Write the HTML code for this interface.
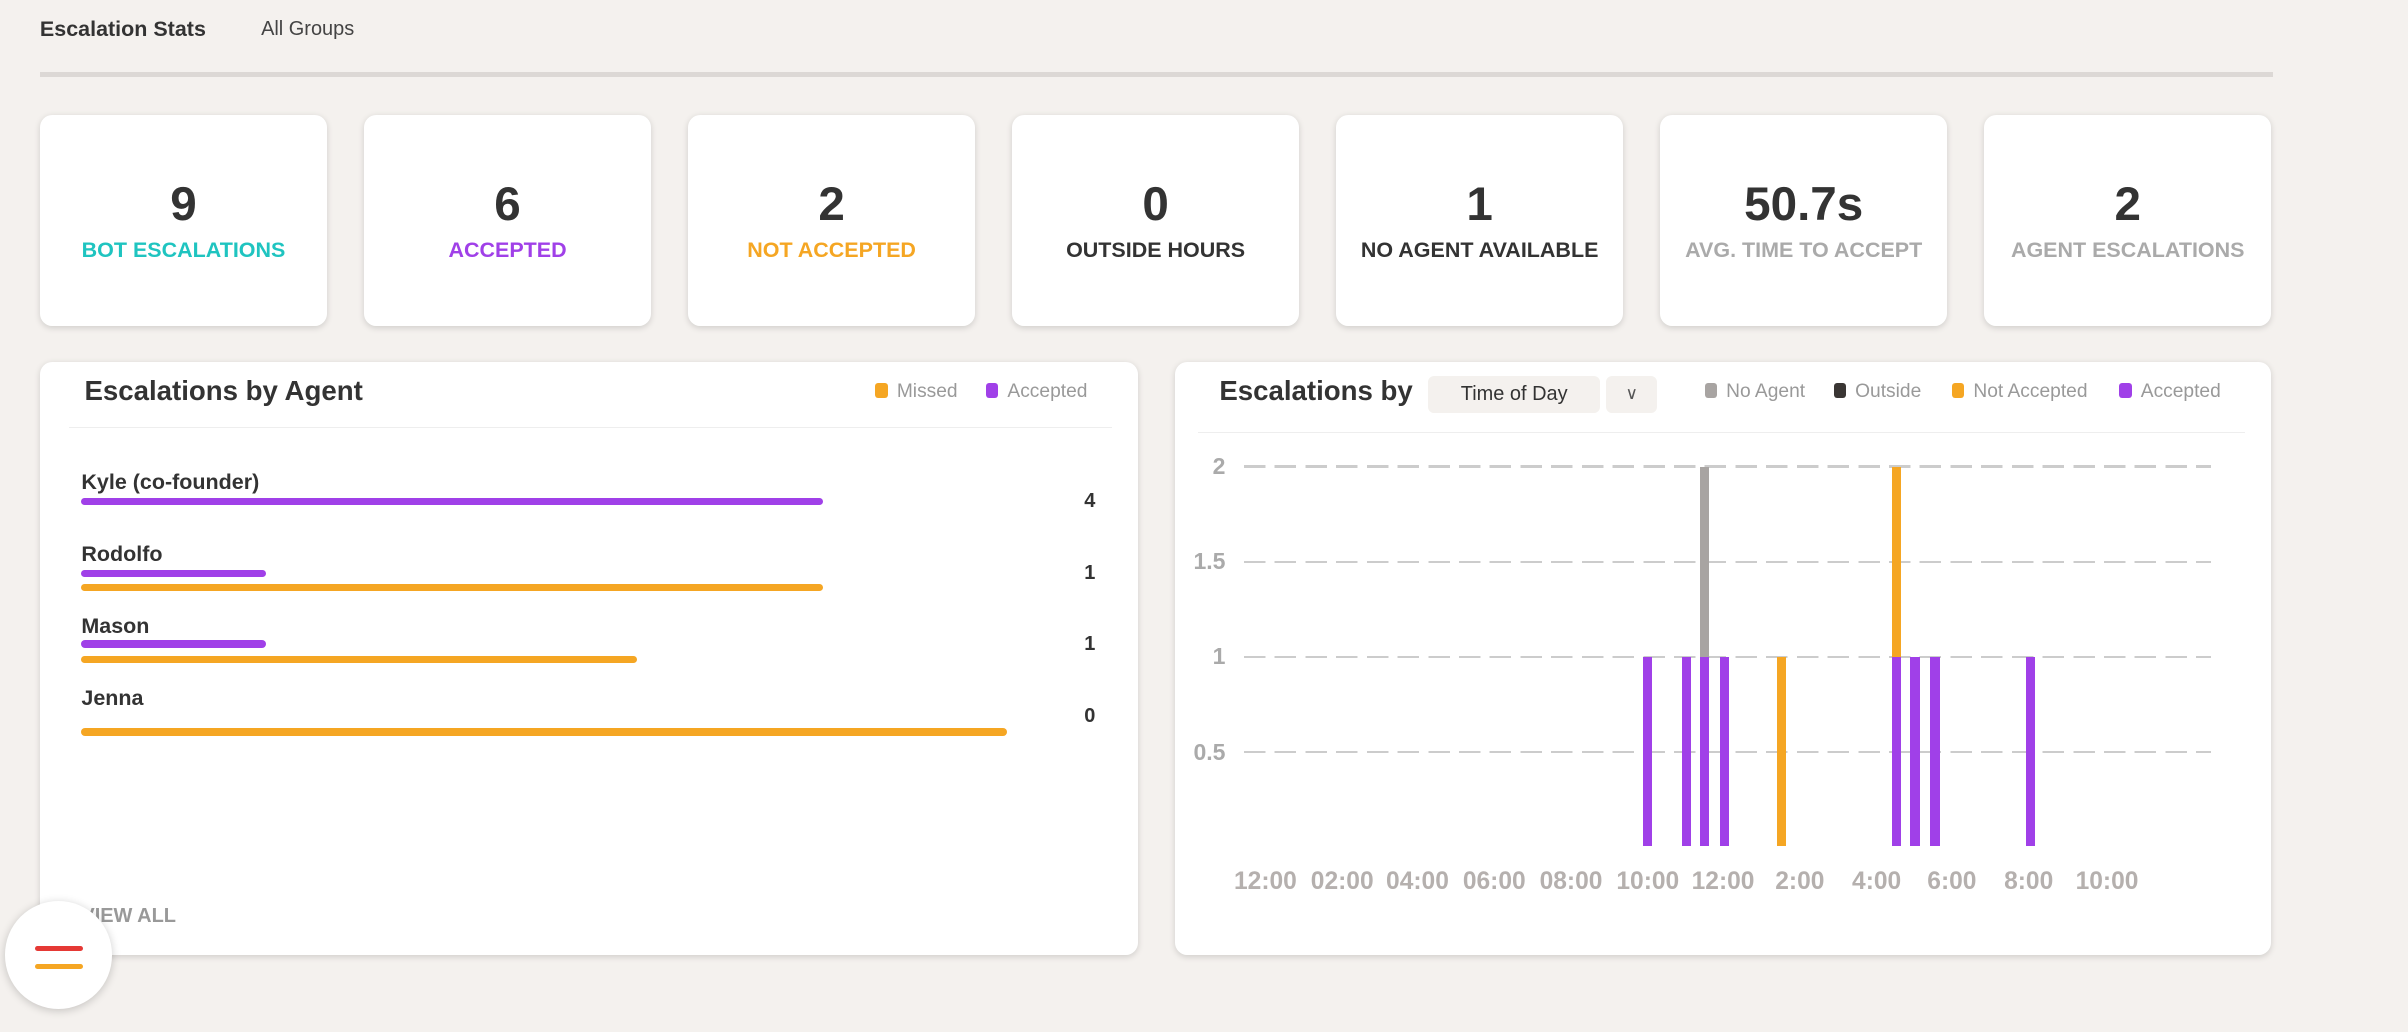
<!DOCTYPE html>
<html><head><meta charset="utf-8"><style>
html,body{margin:0;padding:0;}
body{width:1568px;height:672px;zoom:1.535714;background:#f4f1ee;font-family:"Liberation Sans",sans-serif;position:relative;overflow:hidden;color:#333;}
.a{position:absolute;}
.card{position:absolute;background:#fff;border-radius:8px;box-shadow:0 1px 4px rgba(0,0,0,0.15);}
.stat{top:75px;width:187px;height:137px;text-align:center;}
.stat .n{position:absolute;top:40px;width:100%;font-size:31px;font-weight:bold;color:#333;}
.stat .lb{position:absolute;top:80px;width:100%;font-size:14px;font-weight:bold;}
.bar{position:absolute;height:5px;border-radius:3px;}
.name{position:absolute;left:53px;font-size:14px;font-weight:bold;color:#333;}
.cnt{position:absolute;left:706px;font-size:13px;font-weight:bold;}
.gl{position:absolute;left:810px;width:630px;height:1.5px;background:repeating-linear-gradient(90deg,#ccc 0 14px,transparent 14px 20px);}
.yl{position:absolute;font-size:15px;color:#aaa;font-weight:bold;text-align:right;width:30px;left:768px;font-family:"Liberation Sans Narrow","Liberation Sans",sans-serif;}
.xl{position:absolute;top:565px;font-size:16px;color:#b5b0ae;font-weight:bold;width:60px;text-align:center;font-family:"Liberation Sans Narrow","Liberation Sans",sans-serif;}
.vb{position:absolute;width:6px;}
.lg{position:absolute;top:248px;font-size:12.5px;color:#999;}
.lg i{display:inline-block;width:8px;height:10px;border-radius:2px;margin-right:6px;vertical-align:-1px;}
</style></head><body>
<div class="a" style="left:26px;top:11px;font-size:14px;font-weight:bold;color:#333">Escalation Stats</div>
<div class="a" style="left:170px;top:12px;font-size:13px;color:#444">All Groups</div>
<div class="a" style="left:26px;top:47px;width:1454px;height:3px;background:#dcd8d5"></div>

<div class="card stat" style="left:26px"><div class="n">9</div><div class="lb" style="color:#1fc4c0">BOT ESCALATIONS</div></div>
<div class="card stat" style="left:237px"><div class="n">6</div><div class="lb" style="color:#a040e8">ACCEPTED</div></div>
<div class="card stat" style="left:448px"><div class="n">2</div><div class="lb" style="color:#f5a623">NOT ACCEPTED</div></div>
<div class="card stat" style="left:659px"><div class="n">0</div><div class="lb" style="color:#333">OUTSIDE HOURS</div></div>
<div class="card stat" style="left:870px"><div class="n">1</div><div class="lb" style="color:#333">NO AGENT AVAILABLE</div></div>
<div class="card stat" style="left:1081px"><div class="n">50.7s</div><div class="lb" style="color:#aaa">AVG. TIME TO ACCEPT</div></div>
<div class="card stat" style="left:1292px"><div class="n">2</div><div class="lb" style="color:#aaa">AGENT ESCALATIONS</div></div>

<div class="card" style="left:26px;top:236px;width:715px;height:386px"></div>
<div class="a" style="left:55px;top:244px;font-size:18px;font-weight:bold;color:#333">Escalations by Agent</div>
<div class="lg" style="left:570px"><i style="background:#f5a623"></i>Missed</div>
<div class="lg" style="left:642px"><i style="background:#a040e8"></i>Accepted</div>
<div class="a" style="left:45px;top:278px;width:679px;height:1px;background:#eee"></div>
<div class="name" style="top:306px">Kyle (co-founder)</div>
<div class="bar" style="left:53px;top:324px;width:483px;background:#a040e8"></div>
<div class="cnt" style="top:319px">4</div>
<div class="name" style="top:353px">Rodolfo</div>
<div class="bar" style="left:53px;top:371px;width:120px;background:#a040e8"></div>
<div class="bar" style="left:53px;top:380px;width:483px;background:#f5a623"></div>
<div class="cnt" style="top:366px">1</div>
<div class="name" style="top:400px">Mason</div>
<div class="bar" style="left:53px;top:417px;width:120px;background:#a040e8"></div>
<div class="bar" style="left:53px;top:427px;width:362px;background:#f5a623"></div>
<div class="cnt" style="top:412px">1</div>
<div class="name" style="top:447px">Jenna</div>
<div class="bar" style="left:53px;top:474px;width:603px;background:#f5a623"></div>
<div class="cnt" style="top:459px">0</div>
<div class="a" style="left:53px;top:589px;font-size:13px;font-weight:bold;color:#999">VIEW ALL</div>

<div class="card" style="left:765px;top:236px;width:714px;height:386px"></div>
<div class="a" style="left:794px;top:244px;font-size:18px;font-weight:bold;color:#333">Escalations by</div>
<div class="a" style="left:930px;top:245px;width:112px;height:24px;background:#f4f1ee;border-radius:4px;font-size:13px;line-height:24px;text-align:center;color:#333">Time of Day</div>
<div class="a" style="left:1046px;top:245px;width:33px;height:24px;background:#f4f1ee;border-radius:4px;font-size:11px;line-height:24px;text-align:center;color:#555">&#8744;</div>
<div class="lg" style="left:1110px"><i style="background:#a8a4a2"></i>No Agent</div>
<div class="lg" style="left:1194px"><i style="background:#3a3634"></i>Outside</div>
<div class="lg" style="left:1271px"><i style="background:#f5a623"></i>Not Accepted</div>
<div class="lg" style="left:1380px"><i style="background:#a040e8"></i>Accepted</div>
<div class="a" style="left:780px;top:281px;width:682px;height:1px;background:#eee"></div>

<div class="gl" style="top:303px"></div><div class="gl" style="top:365px"></div><div class="gl" style="top:427px"></div><div class="gl" style="top:489px"></div>
<div class="yl" style="top:295px">2</div><div class="yl" style="top:357px">1.5</div><div class="yl" style="top:419px">1</div><div class="yl" style="top:481px">0.5</div>

<div class="vb" style="left:1070px;top:428px;height:123px;background:#a040e8"></div>
<div class="vb" style="left:1095px;top:428px;height:123px;background:#a040e8"></div>
<div class="vb" style="left:1107px;top:304px;height:124px;background:#a8a4a2"></div>
<div class="vb" style="left:1107px;top:428px;height:123px;background:#a040e8"></div>
<div class="vb" style="left:1120px;top:428px;height:123px;background:#a040e8"></div>
<div class="vb" style="left:1157px;top:428px;height:123px;background:#f5a623"></div>
<div class="vb" style="left:1232px;top:304px;height:124px;background:#f5a623"></div>
<div class="vb" style="left:1232px;top:428px;height:123px;background:#a040e8"></div>
<div class="vb" style="left:1244px;top:428px;height:123px;background:#a040e8"></div>
<div class="vb" style="left:1257px;top:428px;height:123px;background:#a040e8"></div>
<div class="vb" style="left:1319px;top:428px;height:123px;background:#a040e8"></div>

<div class="xl" style="left:794px">12:00</div><div class="xl" style="left:844px">02:00</div><div class="xl" style="left:893px">04:00</div><div class="xl" style="left:943px">06:00</div><div class="xl" style="left:993px">08:00</div><div class="xl" style="left:1043px">10:00</div><div class="xl" style="left:1092px">12:00</div><div class="xl" style="left:1142px">2:00</div><div class="xl" style="left:1192px">4:00</div><div class="xl" style="left:1241px">6:00</div><div class="xl" style="left:1291px">8:00</div><div class="xl" style="left:1342px">10:00</div>

<div class="a" style="left:3px;top:587px;width:70px;height:70px;border-radius:50%;background:#fff;box-shadow:0 1px 6px rgba(0,0,0,0.2)"></div>
<div class="a" style="left:23px;top:616px;width:31px;height:3px;background:#e53935;border-radius:2px"></div>
<div class="a" style="left:23px;top:628px;width:31px;height:3px;background:#f5a623;border-radius:2px"></div>
</body></html>
